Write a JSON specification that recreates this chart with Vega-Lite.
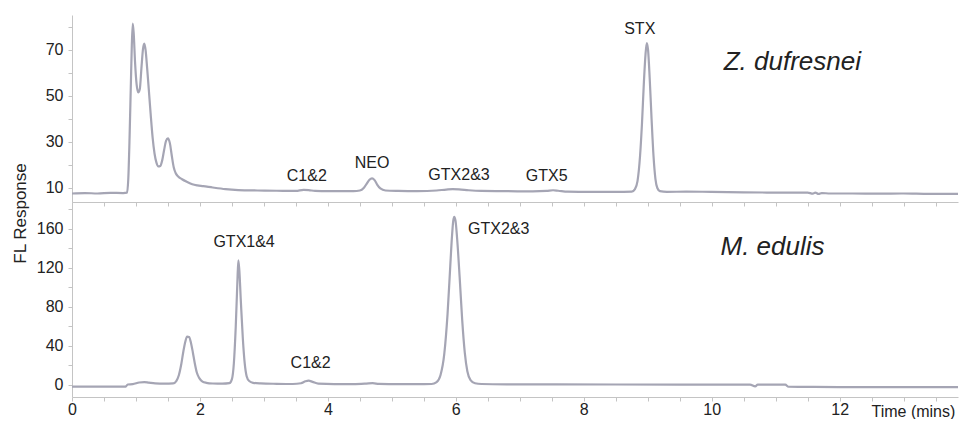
{
  "$schema": "https://vega.github.io/schema/vega-lite/v6.json",
  "padding": {"left": 10, "top": 15, "right": 0, "bottom": 0},
  "spacing": 0,
  "bounds": "flush",
  "background": "white",
  "config": {
    "view": {"stroke": null},
    "font": "Liberation Sans",
    "axis": {
      "grid": false,
      "domainColor": "#c4c4c4",
      "tickColor": "#c4c4c4",
      "tickSize": 4,
      "labelColor": "#222222",
      "labelFont": "Liberation Sans",
      "labelFontSize": 16,
      "labelFlush": false,
      "labelOverlap": false,
      "titleFont": "Liberation Sans",
      "titleFontSize": 17,
      "titleFontWeight": "normal",
      "titleColor": "#222222"
    }
  },
  "datasets": {
    "zd": [
      {"t": 0, "v": 7.6}, {"t": 0.2, "v": 7.8}, {"t": 0.4, "v": 7.6}, {"t": 0.6, "v": 7.9}, {"t": 0.8, "v": 7.8},
      {"t": 0.86, "v": 8.0}, {"t": 0.88, "v": 14}, {"t": 0.9, "v": 32}, {"t": 0.92, "v": 55}, {"t": 0.935, "v": 72},
      {"t": 0.95, "v": 81.5}, {"t": 0.965, "v": 77}, {"t": 0.985, "v": 65}, {"t": 1.01, "v": 55}, {"t": 1.035, "v": 51.5},
      {"t": 1.06, "v": 53}, {"t": 1.085, "v": 62}, {"t": 1.11, "v": 70.5}, {"t": 1.13, "v": 72.8}, {"t": 1.15, "v": 70},
      {"t": 1.175, "v": 62}, {"t": 1.2, "v": 53}, {"t": 1.23, "v": 42}, {"t": 1.26, "v": 32}, {"t": 1.29, "v": 25},
      {"t": 1.32, "v": 21}, {"t": 1.35, "v": 19.4}, {"t": 1.38, "v": 19.6}, {"t": 1.41, "v": 22}, {"t": 1.44, "v": 26.5},
      {"t": 1.47, "v": 30.5}, {"t": 1.5, "v": 31.6}, {"t": 1.53, "v": 29.5}, {"t": 1.56, "v": 24}, {"t": 1.59, "v": 19},
      {"t": 1.62, "v": 16.5}, {"t": 1.66, "v": 15}, {"t": 1.72, "v": 13.8}, {"t": 1.8, "v": 12.6}, {"t": 1.88, "v": 11.6},
      {"t": 1.96, "v": 11.1}, {"t": 2.05, "v": 10.8}, {"t": 2.2, "v": 10.2}, {"t": 2.4, "v": 9.5}, {"t": 2.6, "v": 9.1},
      {"t": 2.9, "v": 8.9}, {"t": 3.2, "v": 8.8}, {"t": 3.5, "v": 8.7}, {"t": 3.62, "v": 9.2}, {"t": 3.7, "v": 9.1},
      {"t": 3.8, "v": 8.7}, {"t": 4.0, "v": 8.6}, {"t": 4.2, "v": 8.6}, {"t": 4.4, "v": 8.6}, {"t": 4.5, "v": 8.9},
      {"t": 4.56, "v": 10}, {"t": 4.61, "v": 12}, {"t": 4.65, "v": 13.6}, {"t": 4.69, "v": 14.2}, {"t": 4.73, "v": 13.4},
      {"t": 4.77, "v": 11.5}, {"t": 4.82, "v": 9.8}, {"t": 4.9, "v": 8.9}, {"t": 5.1, "v": 8.7}, {"t": 5.4, "v": 8.6},
      {"t": 5.7, "v": 8.9}, {"t": 5.85, "v": 9.3}, {"t": 5.95, "v": 9.5}, {"t": 6.05, "v": 9.4}, {"t": 6.2, "v": 9.0},
      {"t": 6.4, "v": 8.7}, {"t": 6.8, "v": 8.6}, {"t": 7.2, "v": 8.5}, {"t": 7.42, "v": 8.7}, {"t": 7.52, "v": 9.0},
      {"t": 7.6, "v": 8.8}, {"t": 7.75, "v": 8.4}, {"t": 8.1, "v": 8.3}, {"t": 8.5, "v": 8.3}, {"t": 8.75, "v": 8.4},
      {"t": 8.8, "v": 9.5}, {"t": 8.84, "v": 13}, {"t": 8.88, "v": 24}, {"t": 8.91, "v": 38}, {"t": 8.94, "v": 56},
      {"t": 8.965, "v": 68}, {"t": 8.985, "v": 73}, {"t": 9.005, "v": 70}, {"t": 9.03, "v": 58}, {"t": 9.06, "v": 40},
      {"t": 9.09, "v": 24}, {"t": 9.12, "v": 14}, {"t": 9.15, "v": 10}, {"t": 9.19, "v": 8.6}, {"t": 9.3, "v": 8.3},
      {"t": 9.6, "v": 8.4}, {"t": 10.0, "v": 8.3}, {"t": 10.5, "v": 8.1}, {"t": 11.0, "v": 8.0}, {"t": 11.5, "v": 8.0},
      {"t": 11.58, "v": 7.5}, {"t": 11.62, "v": 8.0}, {"t": 11.67, "v": 7.4}, {"t": 11.72, "v": 7.8}, {"t": 11.85, "v": 7.6},
      {"t": 12.2, "v": 7.6}, {"t": 12.6, "v": 7.5}, {"t": 13.0, "v": 7.6}, {"t": 13.4, "v": 7.4}, {"t": 13.85, "v": 7.4}
    ],
    "me": [
      {"t": 0, "v": -1.7}, {"t": 0.3, "v": -1.6}, {"t": 0.6, "v": -1.7}, {"t": 0.84, "v": -1.6}, {"t": 0.87, "v": 0.5},
      {"t": 0.95, "v": 0.8}, {"t": 1.05, "v": 2.5}, {"t": 1.13, "v": 3.0}, {"t": 1.2, "v": 2.4}, {"t": 1.3, "v": 1.6},
      {"t": 1.45, "v": 1.4}, {"t": 1.58, "v": 1.6}, {"t": 1.63, "v": 4}, {"t": 1.67, "v": 10}, {"t": 1.71, "v": 22},
      {"t": 1.74, "v": 34}, {"t": 1.77, "v": 44}, {"t": 1.8, "v": 49.5}, {"t": 1.83, "v": 49}, {"t": 1.86, "v": 43},
      {"t": 1.89, "v": 33}, {"t": 1.92, "v": 22}, {"t": 1.95, "v": 13}, {"t": 1.99, "v": 7}, {"t": 2.04, "v": 3.5},
      {"t": 2.1, "v": 2.2}, {"t": 2.2, "v": 1.5}, {"t": 2.35, "v": 1.3}, {"t": 2.46, "v": 1.8}, {"t": 2.5, "v": 6},
      {"t": 2.53, "v": 22}, {"t": 2.56, "v": 60}, {"t": 2.585, "v": 105}, {"t": 2.6, "v": 127.5}, {"t": 2.615, "v": 118},
      {"t": 2.64, "v": 85}, {"t": 2.67, "v": 48}, {"t": 2.7, "v": 22}, {"t": 2.73, "v": 9}, {"t": 2.77, "v": 4},
      {"t": 2.83, "v": 2.2}, {"t": 2.95, "v": 1.6}, {"t": 3.2, "v": 1.2}, {"t": 3.45, "v": 1.0}, {"t": 3.58, "v": 1.8},
      {"t": 3.65, "v": 3.8}, {"t": 3.7, "v": 4.4}, {"t": 3.76, "v": 3.2}, {"t": 3.85, "v": 1.4}, {"t": 4.1, "v": 0.9},
      {"t": 4.4, "v": 0.9}, {"t": 4.6, "v": 1.4}, {"t": 4.7, "v": 1.8}, {"t": 4.8, "v": 1.1}, {"t": 5.1, "v": 0.8},
      {"t": 5.4, "v": 0.8}, {"t": 5.62, "v": 1.0}, {"t": 5.7, "v": 3}, {"t": 5.76, "v": 10}, {"t": 5.82, "v": 32},
      {"t": 5.87, "v": 72}, {"t": 5.91, "v": 118}, {"t": 5.94, "v": 152}, {"t": 5.96, "v": 168}, {"t": 5.975, "v": 172},
      {"t": 5.995, "v": 168}, {"t": 6.02, "v": 150}, {"t": 6.06, "v": 110}, {"t": 6.1, "v": 66}, {"t": 6.14, "v": 33},
      {"t": 6.18, "v": 14}, {"t": 6.23, "v": 5}, {"t": 6.3, "v": 1.8}, {"t": 6.4, "v": 1.0}, {"t": 6.8, "v": 0.7},
      {"t": 7.5, "v": 0.6}, {"t": 8.5, "v": 0.5}, {"t": 9.5, "v": 0.4}, {"t": 10.4, "v": 0.4}, {"t": 10.6, "v": 0.3},
      {"t": 10.68, "v": -1.5}, {"t": 10.72, "v": 0.5}, {"t": 10.8, "v": 0.3}, {"t": 11.15, "v": 0.3}, {"t": 11.2, "v": -1.8},
      {"t": 11.6, "v": -2.0}, {"t": 12.5, "v": -2.2}, {"t": 13.3, "v": -2.3}, {"t": 13.85, "v": -2.3}
    ],
    "zdlab": [
      {"t": 3.67, "v": 15.2, "label": "C1&2"},
      {"t": 4.69, "v": 20.9, "label": "NEO"},
      {"t": 6.05, "v": 15.7, "label": "GTX2&3"},
      {"t": 7.42, "v": 15.2, "label": "GTX5"},
      {"t": 8.875, "v": 79.1, "label": "STX"}
    ],
    "zdname": [{"t": 11.26, "v": 64.8, "label": "Z. dufresnei"}],
    "melab": [
      {"t": 2.69, "v": 145.7, "label": "GTX1&4"},
      {"t": 3.73, "v": 22.5, "label": "C1&2"},
      {"t": 6.67, "v": 159.5, "label": "GTX2&3"}
    ],
    "mename": [{"t": 10.95, "v": 141.4, "label": "M. edulis"}]
  },
  "vconcat": [
    {
      "width": 886,
      "height": 187,
      "encoding": {
        "x": {
          "field": "t", "type": "quantitative",
          "scale": {"domain": [0, 13.85], "nice": false, "zero": false},
          "axis": {
            "title": null, "labels": false,
            "values": [0,0.5,1,1.5,2,2.5,3,3.5,4,4.5,5,5.5,6,6.5,7,7.5,8,8.5,9,9.5,10,10.5,11,11.5,12,12.5,13,13.5]
          }
        },
        "y": {
          "field": "v", "type": "quantitative",
          "scale": {"domain": [3.9, 85.2], "nice": false, "zero": false},
          "axis": {
            "title": null,
            "format": "d",
            "values": [10,20,30,40,50,60,70,80],
            "labelExpr": "datum.value % 20 === 10 ? datum.label : ''",
            "labelPadding": 5
          }
        }
      },
      "layer": [
        {"data": {"name": "zd"}, "mark": {"type": "line", "color": "#a5a5b4", "strokeWidth": 2.2, "interpolate": "monotone"}},
        {"data": {"name": "zdlab"}, "mark": {"type": "text", "fontSize": 16, "color": "#222222", "baseline": "middle", "align": "center"}, "encoding": {"text": {"field": "label"}}},
        {"data": {"name": "zdname"}, "mark": {"type": "text", "fontSize": 26, "fontStyle": "italic", "color": "#222222", "baseline": "middle", "align": "center"}, "encoding": {"text": {"field": "label"}}}
      ]
    },
    {
      "width": 886,
      "height": 195,
      "encoding": {
        "x": {
          "field": "t", "type": "quantitative",
          "scale": {"domain": [0, 13.85], "nice": false, "zero": false},
          "axis": {
            "title": "Time (mins)",
            "titleX": 799, "titleY": 19, "titleAlign": "left", "titleBaseline": "alphabetic", "titleFontSize": 16,
            "labelPadding": 0,
            "format": "~g",
            "values": [0,0.5,1,1.5,2,2.5,3,3.5,4,4.5,5,5.5,6,6.5,7,7.5,8,8.5,9,9.5,10,10.5,11,11.5,12,12.5,13,13.5],
            "labelExpr": "datum.value % 2 === 0 ? datum.label : ''"
          }
        },
        "y": {
          "field": "v", "type": "quantitative",
          "scale": {"domain": [-12.3, 187.1], "nice": false, "zero": false},
          "axis": {
            "title": "FL Response",
            "titleX": -52, "titleY": 11, "titleAlign": "center", "titleBaseline": "middle", "titleAngle": -90,
            "format": "d",
            "values": [0,20,40,60,80,100,120,140,160,180],
            "labelExpr": "datum.value % 40 === 0 ? datum.label : ''",
            "labelPadding": 5
          }
        }
      },
      "layer": [
        {"data": {"name": "me"}, "mark": {"type": "line", "color": "#a5a5b4", "strokeWidth": 2.2, "interpolate": "monotone"}},
        {"data": {"name": "melab"}, "mark": {"type": "text", "fontSize": 16, "color": "#222222", "baseline": "middle", "align": "center"}, "encoding": {"text": {"field": "label"}}},
        {"data": {"name": "mename"}, "mark": {"type": "text", "fontSize": 26, "fontStyle": "italic", "color": "#222222", "baseline": "middle", "align": "center"}, "encoding": {"text": {"field": "label"}}}
      ]
    }
  ]
}
